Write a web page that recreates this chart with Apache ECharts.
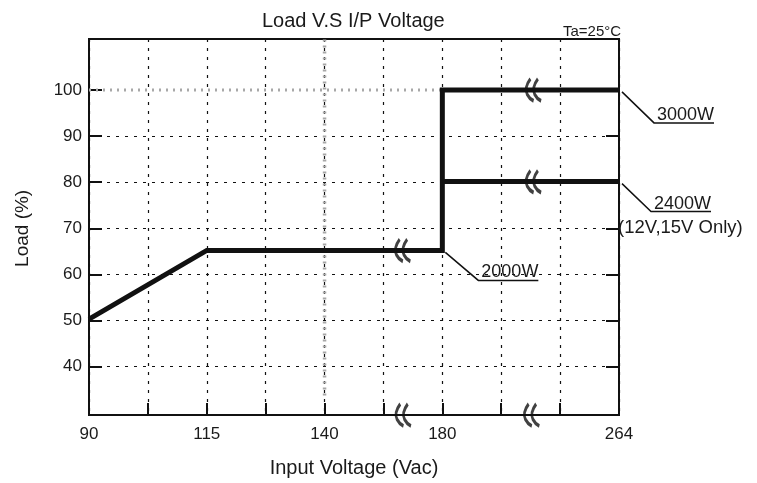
<!DOCTYPE html>
<html>
<head>
<meta charset="utf-8">
<script src="https://cdn.jsdelivr.net/npm/echarts@6/dist/echarts.min.js"></script>
<style>
html,body{margin:0;padding:0;background:#fff}
#main{width:757px;height:483px}
</style>
</head>
<body>
<div id="main"></div>
<script>
// broken x axis: each voltage sits on an evenly spaced slot
var xLabels = ['90','','115','','140','','180','','','264'];
var xSlots = {90:0, 115:2, 140:4, 180:6, 264:9};

// load curves
var volt3000 = [90,115,180,180,264];
var load3000 = [50,65,65,100,100];
var volt2400 = [180,264];
var load2400 = [80,80];

// grey dotted guide lines
var greyHVolt = [90,180], greyHLoad = [100,100];
var greyVVolt = [140,140], greyVLoad = [111,33];

// axis break marks (slot, load)
var breakSlots = [5.33,7.55,7.55,5.34,7.52];
var breakLoads = [65,100,80,29.1,29.1];

// leader notes
var noteText = ['3000W','2400W','2000W'];
var noteVolt = [264,264,180];
var noteLoad = [100,80,65];

var font = '"Liberation Sans", Arial, sans-serif';
var ink = '#111';

function pts(v, l){
	return v.map(function(x,i){ return [xSlots[x], l[i]]; });
}

var chart = echarts.init(document.getElementById('main'));

var breakPath = 'path://M6,0 Q0,8 3,14 Q5,18 9,20 M13,0 Q7,8 10,14 Q12,18 16,20';

chart.setOption({
	animation:false,
	title:{
		text:'Load V.S I/P Voltage', left:257, top:6,
		textStyle:{fontFamily:font, fontSize:20, fontWeight:'normal', color:'#1a1a1a'}
	},
	grid:[
		{left:89, top:39, width:530, height:378, show:true, borderColor:ink, borderWidth:2},
		{left:89, top:90, width:530, height:276.7}
	],
	xAxis:[
		{
			type:'value', gridIndex:0, min:0, max:9, interval:1,
			name:'Input Voltage (Vac)', nameLocation:'middle', nameGap:43,
			nameTextStyle:{fontFamily:font, fontSize:20, color:'#1a1a1a'},
			axisLine:{show:true, lineStyle:{color:ink, width:2}},
			axisTick:{inside:true, length:12, lineStyle:{color:ink, width:2}},
			axisLabel:{margin:11, fontFamily:font, fontSize:17, color:'#1a1a1a',
				formatter:function(v){ return xLabels[Math.round(v)] || ''; }},
			splitLine:{show:true, lineStyle:{type:[3,6], color:ink, width:1.2}}
		},
		{type:'value', gridIndex:1, min:0, max:9, show:false}
	],
	yAxis:[
		{type:'value', gridIndex:0, min:29.1, max:111.1, show:false},
		{
			type:'value', gridIndex:1, min:40, max:100, interval:10,
			name:'Load (%)', nameLocation:'middle', nameGap:57,
			nameTextStyle:{fontFamily:font, fontSize:19, color:'#1a1a1a'},
			axisLine:{show:false},
			axisTick:{show:true, inside:true, length:13, lineStyle:{color:ink, width:2}},
			axisLabel:{margin:7, fontFamily:font, fontSize:17, color:'#1a1a1a'},
			splitLine:{show:true, showMaxLine:false, lineStyle:{type:[3,6], color:ink, width:1.2}}
		},
		{
			type:'value', gridIndex:1, min:40, max:100, interval:10, position:'right',
			axisLine:{show:false},
			axisTick:{show:true, inside:true, length:13, lineStyle:{color:ink, width:2}},
			axisLabel:{show:false},
			splitLine:{show:false}
		}
	],
	series:[
		{type:'line', xAxisIndex:0, yAxisIndex:0, data:pts(greyHVolt, greyHLoad), symbol:'none',
			lineStyle:{color:'#a8a8a8', width:3, type:[2,5]}, z:3},
		{type:'line', xAxisIndex:0, yAxisIndex:0, data:pts(greyVVolt, greyVLoad), symbol:'none',
			lineStyle:{color:'#a8a8a8', width:3.5, type:[2,4]}, z:3},
		{type:'line', xAxisIndex:0, yAxisIndex:0, data:pts(volt3000, load3000), symbol:'none',
			lineStyle:{color:ink, width:5, join:'miter'}, z:5},
		{type:'line', xAxisIndex:0, yAxisIndex:0, data:pts(volt2400, load2400), symbol:'none',
			lineStyle:{color:ink, width:5}, z:5},
		{type:'scatter', xAxisIndex:0, yAxisIndex:0, clip:false, z:10,
			data:breakSlots.map(function(s,i){ return [s, breakLoads[i]]; }),
			symbol:breakPath, symbolSize:[15,22],
			itemStyle:{color:'rgba(0,0,0,0)', borderColor:ink, borderWidth:3.2}}
	]
});

// leader lines and notes, anchored on the curve ends
var knees = [[35,33],[32,30],[36,30]];
var g = [];
noteText.forEach(function(t,i){
	var a = chart.convertToPixel({gridIndex:0}, [xSlots[noteVolt[i]], noteLoad[i]]);
	var k = [a[0]+knees[i][0], a[1]+knees[i][1]];
	g.push({type:'polyline', silent:true, shape:{points:[[a[0]+3,a[1]+2], k, [k[0]+60,k[1]]]},
		style:{stroke:ink, lineWidth:1.5, fill:null}});
	g.push({type:'text', x:k[0]+3, y:k[1]-8, silent:true,
		style:{text:t, fontFamily:font, fontSize:18, fill:'#1a1a1a', verticalAlign:'middle'}});
	if (t == '2400W') {
		g.push({type:'text', x:k[0]-33, y:k[1]+16, silent:true,
			style:{text:'(12V,15V Only)', fontFamily:font, fontSize:18.5, fill:'#1a1a1a', verticalAlign:'middle'}});
	}
});
g.push({type:'text', left:563, top:24, silent:true,
	style:{text:'Ta=25°C', fontFamily:font, fontSize:15, fill:'#1a1a1a'}});
chart.setOption({graphic:g});
</script>
</body>
</html>
